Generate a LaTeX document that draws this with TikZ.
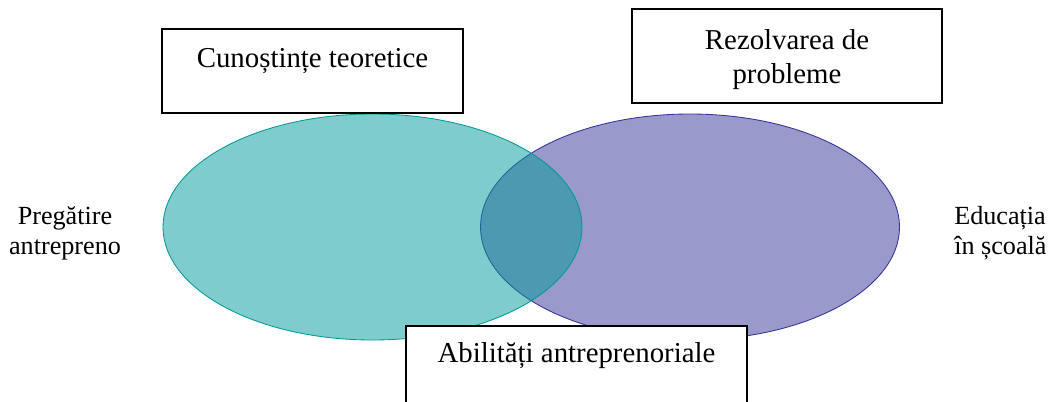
\documentclass[tikz,border=0pt]{standalone}
\usepackage{fontspec}
\setmainfont{Liberation Serif}
\begin{document}
\begin{tikzpicture}[x=0.025cm, y=-0.025cm,
	caseta/.style={draw=black, line width=1.1pt, fill=white, inner sep=0pt,
		align=center, anchor=north},
	eticheta/.style={inner sep=0pt, font=\fontsize{18.6}{21.3}\selectfont},
	contur/.style={line width=0.6pt},
	font=\fontsize{20.5}{24.5}\selectfont,
	]
	\definecolor{verde}{RGB}{0,153,153}
	\definecolor{mov}{RGB}{51,51,153}
	
	\def\rx{209.5}  % semiaxa orizontala
	\def\ry{113}    % semiaxa verticala
	\def\yc{227}    % centrul elipselor pe verticala
	
	\useasboundingbox (0,0) rectangle (1050,401);
	\clip (0,0) rectangle (1050,401);
	
	%% ── Elipsa dreapta (mov) ─────────────────────────────────────────────────
	\fill[mov, fill opacity=0.5](690,\yc) ellipse[x radius=\rx, y radius=\ry];
	\draw[contur, mov](690,\yc) ellipse[x radius=\rx, y radius=\ry];
	
	%% ── Elipsa stanga (verde), peste cea dreapta ────────────────────────────
	\fill[verde, fill opacity=0.5](372.5,\yc) ellipse[x radius=\rx, y radius=\ry];
	\draw[contur, verde](372.5,\yc) ellipse[x radius=\rx, y radius=\ry];
	
	%% ── Casete ───────────────────────────────────────────────────────────────
	\node[caseta, minimum width=7.525cm, text height=0.975cm, text depth=1.125cm]
		(teorie) at (312.5,28) {Cunoștințe teoretice};
	\node[caseta, minimum width=7.75cm, text height=1.875cm, text depth=0.475cm]
		(probleme) at (787,8) {Rezolvarea de\\probleme};
	\node[caseta, minimum width=8.525cm, text height=0.925cm, text depth=1.75cm]
		(abilitati) at (576.5,325) {Abilități antreprenoriale};
	
	%% ── Etichete laterale ────────────────────────────────────────────────────
	\node[eticheta, align=center](pregatire) at (65,233){Pregătire\\antrepreno};
	\node[eticheta, align=left, anchor=west](educatie) at (954,233){Educația\\în școală};
	
\end{tikzpicture}
\end{document}
